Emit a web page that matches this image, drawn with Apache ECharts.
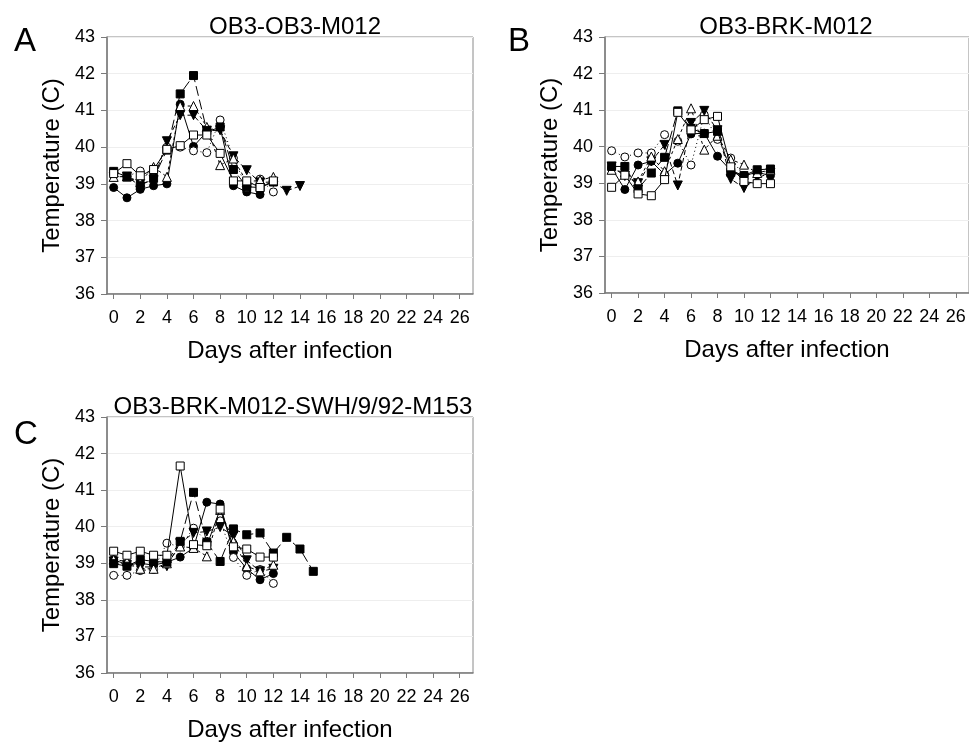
<!DOCTYPE html>
<html>
<head>
<meta charset="utf-8">
<script src="https://cdn.jsdelivr.net/npm/echarts@6/dist/echarts.min.js"></script>
<style>
  html, body { margin: 0; padding: 0; background: #fff; }
  #main { width: 969px; height: 743px; }
</style>
</head>
<body>
<div id="main"></div>
<script>
// panel titles and axis labels
var panelLetters = ['A', 'B', 'C'];
var panelTitles = ['OB3-OB3-M012', 'OB3-BRK-M012', 'OB3-BRK-M012-SWH/9/92-M153'];
var xTicks = [0, 2, 4, 6, 8, 10, 12, 14, 16, 18, 20, 22, 24, 26];

// temperatures by day (index = day after infection)
// panel A
var aFilledCircle = [38.9, 38.62, 38.85, 38.95, 39.0, 41.17, 40.02, 40.42, 40.54, 38.95, 38.78, 38.71];
var aOpenCircle   = [39.33, 39.2, 39.35, 39.33, 40.0, 40.0, 39.9, 39.85, 40.74, 39.7, 38.9, 39.13, 38.78];
var aFilledTri    = [39.2, 39.2, 39.0, 39.1, 40.16, 40.87, 40.87, 40.45, 40.46, 39.75, 39.37, 39.04, 39.05, 38.81, 38.94];
var aOpenTri      = [39.19, 39.2, 39.05, 39.46, 39.19, 41.12, 41.12, 40.55, 39.51, 39.69, 39.05, 39.1, 39.19];
var aFilledSq     = [39.34, 39.19, 38.95, 39.15, 39.92, 41.45, 41.95, 40.45, 40.55, 39.39, 38.92, 38.9, 39.05];
var aOpenSq       = [39.28, 39.55, 39.22, 39.39, 39.94, 40.04, 40.33, 40.33, 39.83, 39.08, 39.08, 38.9, 39.08];
// panel B
var bFilledCircle = [39.42, 38.83, 39.5, 39.6, 39.24, 39.55, 40.35, 40.37, 39.74, 39.35, 39.21, 39.3, 39.21];
var bOpenCircle   = [39.89, 39.72, 39.83, 39.83, 40.33, 40.15, 39.5, 40.87, 40.2, 39.69, 39.2, 39.3, 39.33];
var bFilledTri    = [39.46, 39.2, 39.0, 39.6, 40.05, 38.94, 40.65, 40.98, 40.45, 39.12, 38.87, 39.15, 39.28];
var bOpenTri      = [39.37, 39.3, 39.05, 39.73, 39.33, 40.21, 41.05, 39.92, 40.3, 39.65, 39.51, 39.28, 39.37];
var bFilledSq     = [39.46, 39.46, 38.85, 39.28, 39.71, 40.98, 40.5, 40.36, 40.42, 39.3, 39.21, 39.37, 39.39];
var bOpenSq       = [38.89, 39.22, 38.71, 38.66, 39.1, 40.94, 40.46, 40.74, 40.83, 39.45, 39.05, 38.99, 38.99];
// panel C
var cFilledCircle = [39.1, 38.96, 39.0, 38.95, 39.03, 39.17, 39.42, 40.67, 40.62, 39.3, 38.85, 38.55, 38.72];
var cOpenCircle   = [38.67, 38.67, 38.8, 38.83, 39.55, 39.45, 39.96, 39.6, 40.16, 39.16, 38.67, 38.83, 38.45];
var cFilledTri    = [39.05, 38.95, 38.9, 38.9, 38.92, 39.55, 39.83, 39.87, 39.99, 39.75, 39.08, 38.78, 38.85];
var cOpenTri      = [39.1, 39.05, 38.85, 38.85, 39.0, 39.46, 39.42, 39.19, 40.46, 39.6, 38.92, 38.78, 38.96];
var cFilledSq     = [38.99, 38.92, 39.1, 39.05, 39.03, 39.6, 40.94, 39.57, 39.05, 39.94, 39.78, 39.83, 39.28, 39.71, 39.39, 38.78];
var cOpenSq       = [39.33, 39.22, 39.33, 39.22, 39.22, 41.66, 39.51, 39.48, 40.48, 39.45, 39.39, 39.17, 39.17];

var panelData = [
  [aFilledCircle, aOpenCircle, aFilledTri, aOpenTri, aFilledSq, aOpenSq],
  [bFilledCircle, bOpenCircle, bFilledTri, bOpenTri, bFilledSq, bOpenSq],
  [cFilledCircle, cOpenCircle, cFilledTri, cOpenTri, cFilledSq, cOpenSq]
];

// marker / line look for each of the six animals
var looks = [
  { symbol: 'circle',   size: 8, rot: 0,   fill: '#000', line: 'solid' },
  { symbol: 'circle',   size: 8, rot: 0,   fill: '#fff', line: [1, 3] },
  { symbol: 'triangle', size: 9, rot: 180, fill: '#000', line: [5, 3] },
  { symbol: 'triangle', size: 9, rot: 0,   fill: '#fff', line: [3, 3] },
  { symbol: 'rect',     size: 8, rot: 0,   fill: '#000', line: [10, 4] },
  { symbol: 'rect',     size: 8, rot: 0,   fill: '#fff', line: 'solid' }
];

var FONT = 'Liberation Sans, Arial, sans-serif';
var grids = [
  { left: 107, top: 37,  width: 366, height: 257 },
  { left: 605, top: 37,  width: 366, height: 256 },
  { left: 107, top: 417, width: 366, height: 257 }
];
var titleX = [290, 781, 288];
var letterPos = [[9, 20], [503, 20], [9, 413]];

var option = {
  animation: false,
  backgroundColor: '#fff',
  title: [],
  grid: [],
  xAxis: [],
  yAxis: [],
  series: []
};

grids.forEach(function (g, i) {
  option.grid.push({
    left: g.left, top: g.top, width: g.width, height: g.height,
    show: true, borderColor: '#8a8a8a', borderWidth: 1, backgroundColor: 'transparent'
  });
  option.title.push({
    text: panelTitles[i], left: titleX[i], top: g.top - 27, textAlign: 'center',
    textStyle: { fontFamily: FONT, fontSize: 24, fontWeight: 'normal', color: '#000' }
  });
  option.title.push({
    text: panelLetters[i], left: letterPos[i][0], top: letterPos[i][1],
    textStyle: { fontFamily: FONT, fontSize: 33, fontWeight: 'normal', color: '#000' }
  });
  option.xAxis.push({
    type: 'value', gridIndex: i, min: -0.5, max: 27,
    name: 'Days after infection', nameLocation: 'middle', nameGap: 45,
    nameTextStyle: { fontFamily: FONT, fontSize: 24, color: '#000' },
    axisLine: { show: true, onZero: false, lineStyle: { color: '#7a7a7a', width: 1.5 } },
    axisTick: { show: true, length: 5, customValues: xTicks, lineStyle: { color: '#7a7a7a' } },
    axisLabel: { customValues: xTicks, margin: 15, fontFamily: FONT, fontSize: 18, color: '#000' },
    splitLine: { show: false }
  });
  option.yAxis.push({
    type: 'value', gridIndex: i, min: 36, max: 43, interval: 1,
    name: 'Temperature (C)', nameLocation: 'middle', nameGap: 43,
    nameTextStyle: { fontFamily: FONT, fontSize: 24, color: '#000' },
    axisLine: { show: true, onZero: false, lineStyle: { color: '#7a7a7a', width: 1.5 } },
    axisTick: { show: true, length: 6, lineStyle: { color: '#7a7a7a' } },
    axisLabel: { margin: 12, fontFamily: FONT, fontSize: 18, color: '#000' },
    splitLine: { show: true, lineStyle: { color: '#eeeeee', width: 1 } }
  });
  panelData[i].forEach(function (vals, k) {
    var lk = looks[k];
    option.series.push({
      type: 'line', xAxisIndex: i, yAxisIndex: i,
      data: vals.map(function (v, d) { return [d, v]; }),
      symbol: lk.symbol, symbolSize: lk.size, symbolRotate: lk.rot,
      showAllSymbol: true,
      lineStyle: { color: '#000', width: 1, type: lk.line },
      itemStyle: { color: lk.fill, borderColor: '#000', borderWidth: 1 },
      z: 3 + k
    });
  });
});

var myChart = echarts.init(document.getElementById('main'));
myChart.setOption(option);
</script>
</body>
</html>
